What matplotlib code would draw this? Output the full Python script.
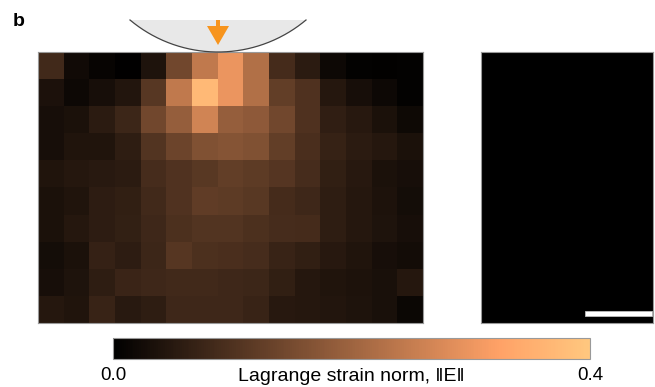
import numpy as np
import matplotlib
matplotlib.use('Agg')
import matplotlib.pyplot as plt
from matplotlib.patches import Polygon, Rectangle

plt.rcParams['font.family'] = ['Liberation Sans', 'DejaVu Sans']

# strain norm per grid cell (rows top -> bottom, 15 columns)
strain = np.array([
    [0.084, 0.022, 0.010, 0.003, 0.040, 0.144, 0.245, 0.300, 0.225, 0.088, 0.056, 0.018, 0.005, 0.004, 0.006],
    [0.036, 0.018, 0.030, 0.044, 0.112, 0.245, 0.372, 0.300, 0.225, 0.125, 0.100, 0.048, 0.030, 0.018, 0.005],
    [0.030, 0.035, 0.055, 0.078, 0.145, 0.190, 0.265, 0.190, 0.180, 0.145, 0.100, 0.062, 0.050, 0.035, 0.020],
    [0.030, 0.041, 0.042, 0.060, 0.105, 0.138, 0.163, 0.170, 0.163, 0.125, 0.094, 0.069, 0.056, 0.048, 0.035],
    [0.042, 0.048, 0.053, 0.056, 0.090, 0.103, 0.113, 0.125, 0.120, 0.108, 0.090, 0.063, 0.050, 0.035, 0.030],
    [0.035, 0.042, 0.058, 0.063, 0.083, 0.103, 0.123, 0.119, 0.113, 0.088, 0.081, 0.060, 0.048, 0.038, 0.028],
    [0.035, 0.048, 0.058, 0.065, 0.080, 0.098, 0.105, 0.105, 0.098, 0.090, 0.088, 0.060, 0.048, 0.040, 0.030],
    [0.028, 0.035, 0.068, 0.058, 0.078, 0.110, 0.098, 0.095, 0.090, 0.073, 0.063, 0.050, 0.042, 0.030, 0.025],
    [0.030, 0.040, 0.060, 0.075, 0.080, 0.083, 0.083, 0.080, 0.078, 0.063, 0.048, 0.042, 0.038, 0.033, 0.048],
    [0.048, 0.042, 0.073, 0.053, 0.060, 0.080, 0.080, 0.080, 0.073, 0.050, 0.048, 0.045, 0.040, 0.033, 0.015],
])
vmin, vmax = 0.0, 0.4
cbar_ticks = [0.0, 0.4]
cbar_ticklabels = ['0.0', '0.4']
cbar_label = 'Lagrange strain norm, \u2016E\u2016'

W, H = 655, 387
fig = plt.figure(figsize=(W / 100, H / 100), dpi=100)

def frac(x0, y0, x1, y1):
    # pixel box (top-left origin) -> figure fraction rect
    return [x0 / W, 1 - y1 / H, (x1 - x0) / W, (y1 - y0) / H]

# strain map
ax = fig.add_axes(frac(38, 52, 423, 323))
im = ax.imshow(strain, cmap='copper', vmin=vmin, vmax=vmax,
               aspect='auto', interpolation='nearest')
ax.set_xticks([]); ax.set_yticks([])
for s in ax.spines.values():
    s.set_color('#999999'); s.set_linewidth(0.8)

# second panel (no strain)
ax2 = fig.add_axes(frac(481, 52, 653, 323))
ax2.set_facecolor('black')
ax2.set_xticks([]); ax2.set_yticks([])
for s in ax2.spines.values():
    s.set_color('#999999'); s.set_linewidth(0.8)

# colorbar
cax = fig.add_axes(frac(113, 338, 590, 359))
cb = fig.colorbar(im, cax=cax, orientation='horizontal', ticks=cbar_ticks)
cb.ax.set_xticklabels(cbar_ticklabels)
cb.ax.tick_params(length=0, pad=5.8, labelsize=13.5)
cb.outline.set_edgecolor('#999999'); cb.outline.set_linewidth(0.8)
fig.text(351 / W, 1 - 381 / H, cbar_label, ha='center', va='baseline',
         fontsize=14)

# overlay in pixel units for the indenter, arrow and scale bar
ov = fig.add_axes([0, 0, 1, 1], zorder=5)
ov.set_xlim(0, W); ov.set_ylim(H, 0)
ov.axis('off')

cx, cy, R = 218, 52 - 137, 137
top = 20
half = np.sqrt(R**2 - (top - cy)**2)
t = np.linspace(cx - half, cx + half, 200)
arc = cy + np.sqrt(R**2 - (t - cx)**2)
ov.add_patch(Polygon(np.column_stack([t, arc]), closed=True,
                     facecolor='#E8E8E8', edgecolor='none'))
ov.plot(t, arc, color='#444444', lw=0.9)

orange = '#F7941D'
ov.add_patch(Rectangle((216, 20), 4, 8, facecolor=orange, edgecolor='none'))
ov.add_patch(Polygon([[207, 26], [229, 26], [218, 45]], closed=True,
                     facecolor=orange, edgecolor='none'))

# scale bar
ov.add_patch(Rectangle((585, 311), 67, 4.5, facecolor='white',
                       edgecolor='#BBBBBB', lw=0.6))

fig.text(12.5 / W, 1 - 25.5 / H, 'b', fontsize=14, fontweight='bold',
         ha='left', va='baseline')

fig.savefig('out.png', dpi=100)
